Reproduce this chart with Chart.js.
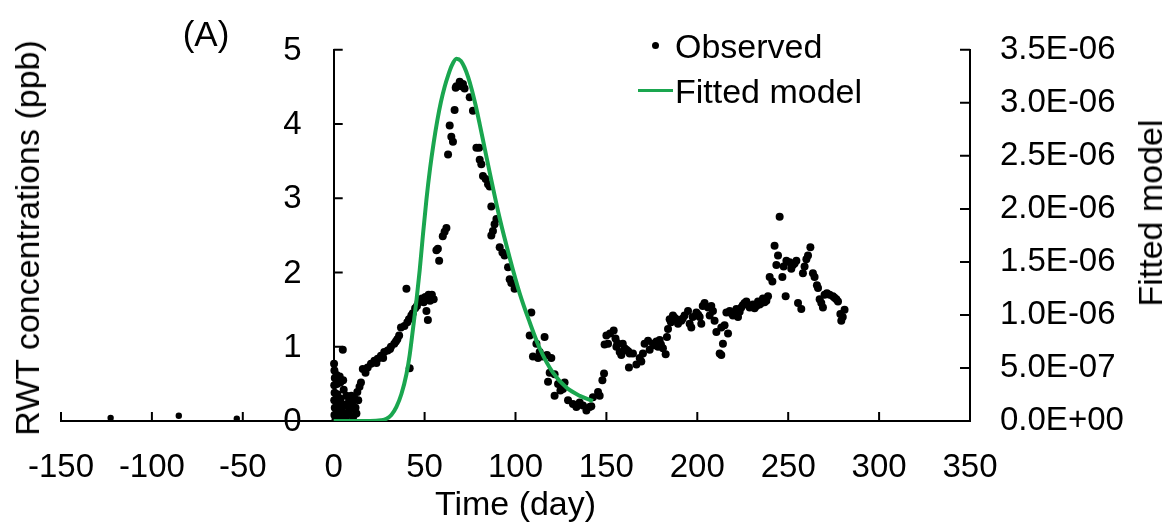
<!DOCTYPE html>
<html>
<head>
<meta charset="utf-8">
<title>RWT concentrations</title>
<script src="https://cdn.jsdelivr.net/npm/chart.js@4.4.1/dist/chart.umd.min.js"></script>
<style>
  body { margin: 0; background: #fff; }
  #wrap { position: relative; width: 1175px; height: 529px; font-family: 'Liberation Sans', Arial, sans-serif; color: #000; }
  #wrap canvas { position: absolute; left: 0; top: 0; }
  .txt { position: absolute; white-space: nowrap; line-height: 1; font-size: 34px; transform: translate(-50%, -50%); }
  .rot { transform: translate(-50%, -50%) rotate(-90deg); }
  .leg { position: absolute; white-space: nowrap; line-height: 1; font-size: 34px; transform: translateY(-50%); }
  .dot { position: absolute; width: 7px; height: 7px; border-radius: 50%; background: #000; }
  .gline { position: absolute; height: 3px; background: #1aa64f; }
</style>
</head>
<body>
<div id="wrap">
  <canvas id="chart" width="1175" height="529"></canvas>
  <div class="txt" style="left:206px; top:33px; font-size:35px;">(A)</div>
  <div class="txt rot" style="left:27px; top:238px;">RWT concentrations (ppb)</div>
  <div class="txt rot" style="left:1150px; top:213px;">Fitted model</div>
  <div class="dot" style="left:652px; top:42px;"></div>
  <div class="leg" style="left:675px; top:46px;">Observed</div>
  <div class="gline" style="left:638px; top:89px; width:35px;"></div>
  <div class="leg" style="left:675px; top:91px;">Fitted model</div>
</div>
<script>
// observed RWT concentrations (ppb) by day
const obsDay = [
  -122.7, -85.2, -53.3,
  0.2, 0.4, 0.6, 0.3, 0.5, 0.3, 0.6, 0.4, 1.0, 1.6, 1.8, 2.0, 2.2, 2.5, 2.8, 3.3, 3.6, 3.8,
  4.2, 4.6, 5.0, 5.2, 5.5, 5.8, 6.2, 6.6, 7.0, 7.5, 8.0, 8.5, 9.0, 9.7, 10.2, 10.8, 11.5, 12.0,
  12.5, 13.0, 13.5, 14.2, 15.0,
  16.0, 17.5, 18.7, 20.5, 22.4, 23.5, 24.2, 26.0, 27.2, 27.8, 29.7, 31.0, 31.5, 33.3, 34.2, 35.0,
  36.0, 37.0, 38.9, 40.0, 40.5, 41.4, 41.8, 42.7, 43.5, 44.8, 45.8, 46.7, 47.5, 48.6, 49.5, 50.4,
  51.0, 51.8, 52.2, 53.0, 54.0, 55.0,
  56.5, 57.3, 58.0, 60.0, 61.0, 62.0, 62.9, 63.8, 64.7, 65.6, 66.5,
  67.1, 67.5, 69.3, 70.2, 71.1, 72.0,
  74.8, 76.6, 78.5, 80.0, 80.3, 81.2, 82.1, 83.6, 84.9, 85.8, 86.7, 89.5, 88.5, 87.6, 86.7, 91.3,
  92.8, 94.0, 95.9, 96.8, 97.7, 99.5, 108.7, 107.8, 111.5, 116.0, 113.3, 109.6, 112.4, 115.1, 117.3,
  119.7, 118.8, 117.9, 121.5, 123.4, 124.7, 121.5, 127.0, 126.1, 128.9, 131.6, 133.5, 135.3, 137.1,
  139.0, 140.8, 141.7, 142.6, 145.4, 146.3, 147.8, 148.7,
  150.0, 149.0, 150.9, 152.0, 154.0, 155.0, 155.5, 156.0, 157.3, 158.2, 159.0, 160.0, 161.0, 162.0,
  162.8, 164.6, 162.4, 166.5, 168.3, 169.2, 170.1, 171.0, 172.9, 173.8, 175.6, 176.5, 177.5, 178.4,
  179.3, 180.0, 181.1, 182.6, 183.3, 183.9, 184.8, 185.5, 186.6, 187.5, 188.5, 189.4, 190.0, 191.2,
  192.0, 193.0, 194.9, 195.8, 196.7, 197.5, 199.5, 200.5, 201.3, 202.2, 203.0, 204.0, 205.9, 206.8,
  207.7, 208.6, 209.5, 210.5, 213.2, 215.0, 216.9, 214.1, 213.2, 212.3, 216.0, 217.8, 218.7, 219.6,
  220.5, 221.5, 222.4, 223.3, 224.2, 225.0, 226.0, 227.0, 228.8, 229.7, 230.6, 231.5, 232.5, 233.4,
  234.3, 235.2, 236.1, 237.0, 238.0, 238.9, 239.8, 241.3, 242.5, 243.5, 244.4, 245.3, 246.8, 247.5,
  248.6, 249.0, 250.8, 251.7, 252.6, 253.5, 254.5, 255.4, 257.2, 258.1, 259.0, 260.0, 260.9, 262.2,
  263.6, 264.5, 265.8, 266.4, 267.3, 268.2, 269.1, 270.0, 271.3, 272.8, 274.6, 275.5, 276.5, 277.4,
  278.7, 279.2, 280.0, 281.0
];
const obsConc = [
  0.04, 0.07, 0.03,
  0.77, 0.68, 0.58, 0.48, 0.38, 0.28, 0.18, 0.08, 0.02, 0.62, 0.50, 0.36, 0.24, 0.12, 0.04, 0.60, 0.52, 0.30,
  0.16, 0.06, 0.96, 0.55, 0.42, 0.22, 0.10, 0.02, 0.34, 0.20, 0.08, 0.28, 0.15, 0.34, 0.22, 0.06, 0.30, 0.18,
  0.10, 0.39, 0.28, 0.46, 0.52,
  0.70, 0.65, 0.72, 0.77, 0.81, 0.78, 0.84, 0.88, 0.85, 0.93, 0.95, 0.97, 1.00, 1.04, 1.07, 1.10,
  1.15, 1.26, 1.28, 1.78, 1.33, 1.37, 0.71, 1.42, 1.45, 1.52, 1.55, 1.60, 1.63, 1.65, 1.60, 1.67,
  1.48, 1.36, 1.70, 1.62, 1.70, 1.64,
  2.30, 2.32, 2.16, 2.49, 2.55, 2.60, 3.59, 3.98, 3.83, 3.76, 4.19,
  4.49, 4.51, 4.57, 4.51, 4.54, 4.48,
  4.36, 4.18, 3.68, 3.68, 3.52, 3.46, 3.30, 3.26, 3.19, 3.16, 2.89, 2.72, 2.65, 2.56, 2.50, 2.34,
  2.27, 2.23, 2.07, 1.91, 1.86, 1.78, 1.46, 1.15, 1.04, 1.13, 0.93, 0.87, 0.85, 0.87, 0.89,
  0.85, 0.65, 0.53, 0.63, 0.50, 0.41, 0.34, 0.52, 0.43, 0.28, 0.23, 0.19, 0.25, 0.21,
  0.14, 0.19, 0.20, 0.32, 0.39, 0.34, 0.55, 0.64,
  1.15, 1.03, 1.04, 1.18, 1.22, 1.11, 1.00, 1.05, 0.93, 0.89, 1.04, 0.98, 0.96, 0.94,
  0.91, 0.91, 0.72, 0.76, 0.85, 0.80, 0.91, 1.04, 1.08, 0.96, 1.04, 1.02, 1.07, 1.00,
  1.09, 1.03, 0.98, 0.90, 1.13, 1.24, 1.37, 1.33, 1.42, 1.39, 1.37, 1.31, 1.36, 1.35,
  1.38, 1.42, 1.48, 1.31, 1.26, 1.40, 1.46, 1.43, 1.40, 1.31, 1.55, 1.59, 1.53, 1.42,
  1.55, 1.48, 1.35, 1.20, 1.26, 1.29, 1.18, 1.04, 0.89, 0.91, 1.46, 1.48, 1.45, 1.42,
  1.46, 1.51, 1.40, 1.47, 1.53, 1.56, 1.59, 1.61, 1.53, 1.55, 1.57, 1.52, 1.55, 1.61,
  1.57, 1.59, 1.65, 1.60, 1.62, 1.68, 1.94, 1.88, 2.36, 2.10, 2.23, 2.75, 1.94, 2.08,
  1.68, 2.16, 2.14, 2.05, 2.10, 2.12, 2.16, 1.59, 1.51, 1.99, 2.08, 2.18, 2.23, 2.34,
  1.99, 1.94, 1.83, 1.79, 1.64, 1.59, 1.53, 1.70, 1.72, 1.70, 1.68, 1.66, 1.64, 1.61,
  1.44, 1.35, 1.40, 1.50
];

// fitted model (right axis), values in units of 1E-06
const fitDay = [0, 10, 20, 26, 29, 31.7, 34.5, 37.2, 40, 41.8, 43.6, 45.5, 47.3, 49.1, 51, 53, 55, 57,
  59, 61, 63, 65, 67.5, 70, 72, 74, 76, 78, 80.3, 83, 85.8, 91.3, 96.8, 102.3, 107.8, 113.3, 120.6,
  128, 135.3, 142.6];
const fitE6 = [0, 0, 0, 0.007, 0.021, 0.056, 0.133, 0.252, 0.441, 0.623, 0.868, 1.134, 1.421, 1.757,
  2.086, 2.38, 2.625, 2.835, 3.01, 3.15, 3.262, 3.353, 3.416, 3.395, 3.332, 3.241, 3.122, 2.982, 2.8,
  2.576, 2.345, 1.911, 1.54, 1.204, 0.931, 0.686, 0.455, 0.315, 0.238, 0.189];

const xTicks = { min: -150, max: 350, step: 50 };
const yTicks = { min: 0, max: 5, step: 1 };
const y2Ticks = { min: 0, max: 3.5e-6, step: 5e-7 };

const FONT = "'Liberation Sans', Arial, sans-serif";
Chart.defaults.font.family = FONT;
Chart.defaults.color = '#000';

function sciLabel(v) {
  const [m, e] = Number(v).toExponential(1).split('e');
  const n = parseInt(e, 10);
  return m + 'E' + (n < 0 ? '-' : '+') + String(Math.abs(n)).padStart(2, '0');
}

// tick marks pointing into the plot, plus labels of the axis that sits at x = 0
const innerTicks = {
  id: 'innerTicks',
  beforeDatasetsDraw(chart) {
    const { ctx, scales: { x, y, y2 } } = chart;
    const x0 = x.getPixelForValue(0);
    ctx.save();
    ctx.strokeStyle = '#000';
    ctx.lineWidth = 2;
    ctx.beginPath();
    x.ticks.forEach(t => {
      const px = x.getPixelForValue(t.value);
      ctx.moveTo(px, x.top);
      ctx.lineTo(px, x.top - 9);
    });
    y.ticks.forEach(t => {
      const py = y.getPixelForValue(t.value);
      ctx.moveTo(x0, py);
      ctx.lineTo(x0 + 9, py);
    });
    y2.ticks.forEach(t => {
      const py = y2.getPixelForValue(t.value);
      ctx.moveTo(y2.left, py);
      ctx.lineTo(y2.left - 10, py);
    });
    ctx.stroke();

    ctx.fillStyle = '#000';
    ctx.font = '33px ' + FONT;
    ctx.textAlign = 'right';
    ctx.textBaseline = 'middle';
    y.ticks.forEach(t => {
      ctx.fillText(t.label, x0 - 32, y.getPixelForValue(t.value) + 1);
    });
    ctx.restore();
  }
};

const axisGrid = { display: true, drawOnChartArea: false, drawTicks: false };
const axisBorder = { color: '#000', width: 2 };

new Chart(document.getElementById('chart'), {
  type: 'scatter',
  data: {
    datasets: [
      {
        label: 'Observed',
        data: obsDay.map((d, i) => ({ x: d, y: obsConc[i] })),
        yAxisID: 'y',
        backgroundColor: '#000',
        borderWidth: 0,
        pointRadius: c => (c.raw && c.raw.x < 0 ? 3.2 : 4),
        order: 2
      },
      {
        label: 'Fitted model',
        data: fitDay.map((d, i) => ({ x: d, y: fitE6[i] * 1e-6 })),
        yAxisID: 'y2',
        showLine: true,
        borderColor: '#1aa64f',
        borderWidth: 4,
        pointRadius: 0,
        cubicInterpolationMode: 'monotone',
        order: 1
      }
    ]
  },
  options: {
    responsive: false,
    animation: false,
    layout: { padding: { left: 61, top: 41, right: 0, bottom: 0 } },
    plugins: { legend: { display: false }, tooltip: { enabled: false } },
    scales: {
      x: {
        type: 'linear',
        position: 'bottom',
        min: xTicks.min,
        max: xTicks.max,
        ticks: { stepSize: xTicks.step, padding: 27, font: { size: 33 }, maxRotation: 0 },
        grid: axisGrid,
        border: axisBorder,
        title: { display: true, text: 'Time (day)', font: { size: 34 }, padding: { top: 0, bottom: 3 } },
        afterFit: s => { s.height = 108; }
      },
      y: {
        type: 'linear',
        position: { x: 0 },
        min: yTicks.min,
        max: yTicks.max,
        ticks: { stepSize: yTicks.step, display: false },
        grid: axisGrid,
        border: axisBorder
      },
      y2: {
        type: 'linear',
        position: 'right',
        min: y2Ticks.min,
        max: y2Ticks.max,
        ticks: { stepSize: y2Ticks.step, padding: 30, font: { size: 33 }, callback: sciLabel },
        grid: axisGrid,
        border: axisBorder,
        afterFit: s => { s.width = 205; }
      }
    }
  },
  plugins: [innerTicks]
});
</script>
</body>
</html>
